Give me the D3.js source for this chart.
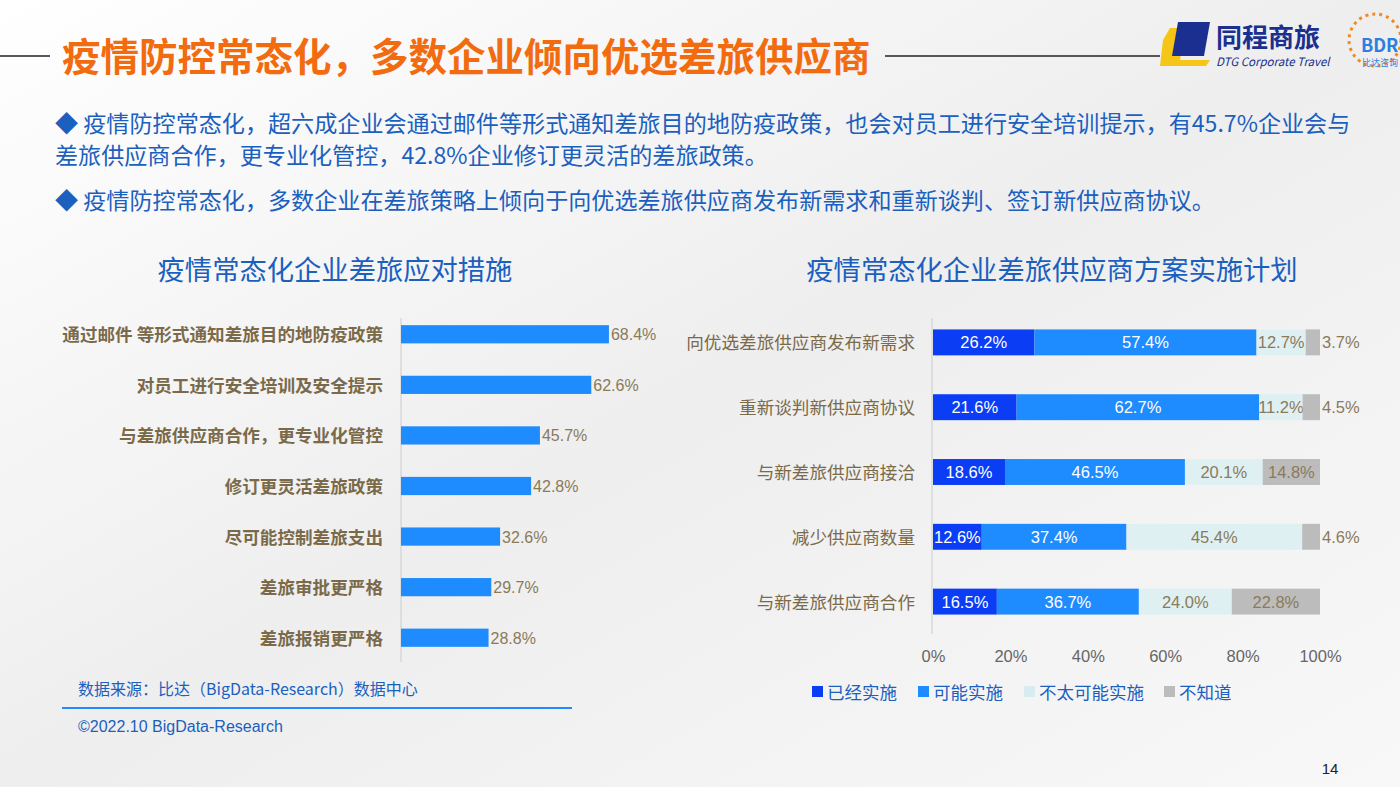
<!DOCTYPE html>
<html><head><meta charset="utf-8">
<script src="https://cdn.jsdelivr.net/npm/d3@7"></script>
<style>body{margin:0;background:#fff;font-family:"Noto Sans CJK SC",sans-serif}</style>
</head><body><svg id="c" width="1400" height="787"></svg>
<script>
const leftCats=["通过邮件 等形式通知差旅目的地防疫政策","对员工进行安全培训及安全提示","与差旅供应商合作，更专业化管控","修订更灵活差旅政策","尽可能控制差旅支出","差旅审批更严格","差旅报销更严格"];
const leftVals=[68.4,62.6,45.7,42.8,32.6,29.7,28.8];
const rightCats=["向优选差旅供应商发布新需求","重新谈判新供应商协议","与新差旅供应商接洽","减少供应商数量","与新差旅供应商合作"];
const seriesNames=["已经实施","可能实施","不太可能实施","不知道"];
const s1=[26.2,21.6,18.6,12.6,16.5];
const s2=[57.4,62.7,46.5,37.4,36.7];
const s3=[12.7,11.2,20.1,45.4,24.0];
const s4=[3.7,4.5,14.8,4.6,22.8];
const xTicks=[0,20,40,60,80,100];
const colors=["#0b3df5","#1e8cff","#dff0f3","#bcbcbc"];
const labelCol=["#fff","#fff","#8a7a5a","#8a7a5a"];

const svg=d3.select("#c");
const defs=svg.append("defs");
const g0=defs.append("linearGradient").attr("id","bg").attr("x1",0).attr("y1",0).attr("x2",1).attr("y2",1);
g0.append("stop").attr("offset",0).attr("stop-color","#ffffff");
g0.append("stop").attr("offset",0.5).attr("stop-color","#eeeeee");
g0.append("stop").attr("offset",1).attr("stop-color","#f8f8f8");
svg.append("rect").attr("width",1400).attr("height",787).attr("fill","url(#bg)");

// header
svg.append("line").attr("x1",0).attr("x2",50).attr("y1",56).attr("y2",56).attr("stroke","#222").attr("stroke-width",1.5);
svg.append("line").attr("x1",885).attr("x2",1160).attr("y1",56).attr("y2",56).attr("stroke","#222").attr("stroke-width",1.5);
svg.append("text").attr("x",62).attr("y",71).attr("font-size",38.5).attr("font-weight","bold").attr("fill","#f26b0f").text("疫情防控常态化，多数企业倾向优选差旅供应商");
// logo
svg.append("path").attr("d","M1163,40 L1170,28 L1185,28 L1180,60 L1210,60 L1206,66 L1160,66 Z").attr("fill","#f5c518");
svg.append("path").attr("d","M1178,22 L1210,22 L1204,56 L1172,56 Z").attr("fill","#1a2f8f");
svg.append("text").attr("x",1216).attr("y",47).attr("font-size",26).attr("font-weight","bold").attr("fill","#1a2f8f").text("同程商旅");
svg.append("text").attr("x",1216).attr("y",66).attr("font-size",11.5).attr("font-style","italic").attr("fill","#1a2f8f").text("DTG Corporate Travel");
svg.append("circle").attr("cx",1375).attr("cy",40).attr("r",26).attr("fill","none").attr("stroke","#f28a20").attr("stroke-width",3).attr("stroke-dasharray","3 4");
svg.append("text").attr("x",1361).attr("y",52).attr("font-size",18).attr("fill","#2a7fe0").attr("font-weight","bold").text("BDR");
svg.append("text").attr("x",1362).attr("y",66).attr("font-size",9).attr("fill","#2a7fe0").text("比达咨询");

// bullets
const bc="#1b5fbf";
function bt(y,t){svg.append("text").attr("x",55).attr("y",y).attr("font-size",23.1).attr("fill",bc).text(t);}
bt(132,"◆ 疫情防控常态化，超六成企业会通过邮件等形式通知差旅目的地防疫政策，也会对员工进行安全培训提示，有45.7%企业会与");
bt(164,"差旅供应商合作，更专业化管控，42.8%企业修订更灵活的差旅政策。");
bt(209,"◆ 疫情防控常态化，多数企业在差旅策略上倾向于向优选差旅供应商发布新需求和重新谈判、签订新供应商协议。");

// chart titles
svg.append("text").attr("x",335).attr("y",280).attr("text-anchor","middle").attr("font-size",27.3).attr("fill","#1b5fbf").text("疫情常态化企业差旅应对措施");
svg.append("text").attr("x",1052).attr("y",280).attr("text-anchor","middle").attr("font-size",27.3).attr("fill","#1b5fbf").text("疫情常态化企业差旅供应商方案实施计划");

// left chart
const lx=d3.scaleLinear().domain([0,100]).range([401,705]);
const ly=d3.scaleBand().domain(leftCats).range([310,662]).paddingInner(0.64).paddingOuter(0.3);
svg.append("line").attr("x1",401).attr("x2",401).attr("y1",318).attr("y2",662).attr("stroke","#ccc");
leftCats.forEach((c,i)=>{
  const y=ly(c);
  svg.append("rect").attr("x",lx(0)).attr("y",y).attr("width",lx(leftVals[i])-lx(0)).attr("height",ly.bandwidth()).attr("fill","#1e8cff");
  svg.append("text").attr("x",lx(leftVals[i])+2).attr("y",y+ly.bandwidth()/2+6).attr("font-size",16).attr("fill","#8a7a5a").attr("font-family","Liberation Sans,Arial").text(leftVals[i].toFixed(1)+"%");
  svg.append("text").attr("x",383).attr("y",y+ly.bandwidth()/2+7).attr("text-anchor","end").attr("font-size",17.6).attr("font-weight","bold").attr("fill","#7a6a4a").text(c);
});

// right chart
const rx=d3.scaleLinear().domain([0,100]).range([933,1320]);
const ry=d3.scaleBand().domain(rightCats).range([310,634]).paddingInner(0.6).paddingOuter(0.3);
svg.append("line").attr("x1",932).attr("x2",932).attr("y1",318).attr("y2",634).attr("stroke","#ccc");
const series=[s1,s2,s3,s4];
rightCats.forEach((c,i)=>{
  const y=ry(c);let acc=0;
  series.forEach((s,k)=>{
    const v=s[i];
    svg.append("rect").attr("x",rx(acc)).attr("y",y).attr("width",rx(acc+v)-rx(acc)).attr("height",ry.bandwidth()).attr("fill",colors[k]);
    let cx=rx(acc+v/2), anchor="middle";
    if(k==3 && v<6){cx=rx(acc+v)+2;anchor="start";}
    svg.append("text").attr("x",cx).attr("y",y+ry.bandwidth()/2+6).attr("text-anchor",anchor).attr("font-size",16.5).attr("font-family","Liberation Sans,Arial").attr("fill",labelCol[k]).text(v.toFixed(1)+"%");
    acc+=v;
  });
  svg.append("text").attr("x",915).attr("y",y+ry.bandwidth()/2+7).attr("text-anchor","end").attr("font-size",17.6).attr("fill","#7a6a4a").text(c);
});
const ax=svg.append("g").attr("transform","translate(0,642)").call(d3.axisBottom(rx).tickValues(xTicks).tickFormat(d=>d+"%").tickSize(0));
ax.select(".domain").remove();
ax.selectAll("text").attr("font-size",16.5).attr("fill","#666").attr("font-family","Liberation Sans,Arial").attr("dy","1em");

// legend
let lxp=[812,918,1024,1164];
seriesNames.forEach((n,k)=>{
  svg.append("rect").attr("x",lxp[k]).attr("y",686).attr("width",11).attr("height",11).attr("fill",colors[k]==="#dff0f3"?"#d6ecef":colors[k]);
  svg.append("text").attr("x",lxp[k]+15).attr("y",699).attr("font-size",17.5).attr("fill","#1b5fbf").text(n);
});

// source
svg.append("text").attr("x",78).attr("y",695).attr("font-size",16).attr("fill","#1b5fbf").text("数据来源：比达（BigData-Research）数据中心");
svg.append("line").attr("x1",62).attr("x2",572).attr("y1",708).attr("y2",708).attr("stroke","#1e8cff").attr("stroke-width",2);
svg.append("text").attr("x",78).attr("y",732).attr("font-size",16).attr("fill","#1b5fbf").attr("font-family","Liberation Sans,Arial").text("©2022.10 BigData-Research");
svg.append("text").attr("x",1330).attr("y",774).attr("text-anchor","middle").attr("font-size",15).attr("fill","#222").attr("font-family","Liberation Sans,Arial").text("14");
</script></body></html>
